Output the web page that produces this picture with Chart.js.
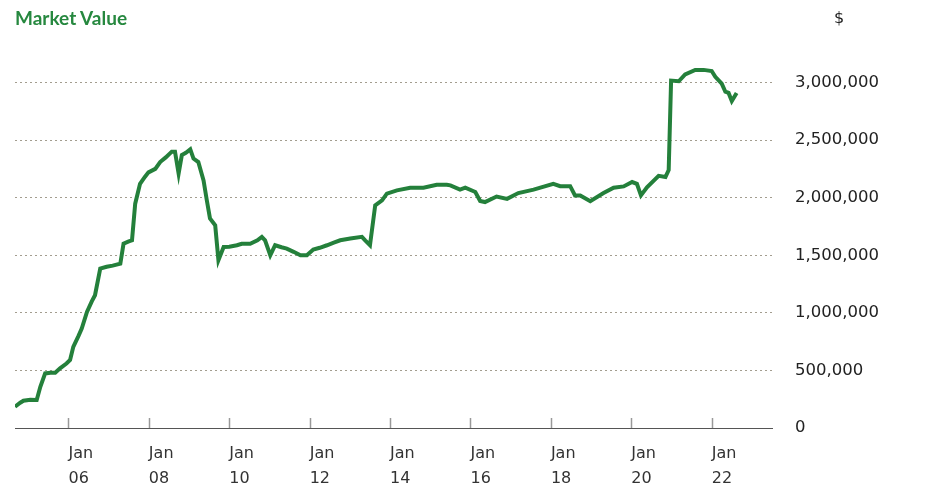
<!DOCTYPE html>
<html>
<head>
<meta charset="utf-8">
<script src="https://cdn.jsdelivr.net/npm/chart.js@4"></script>
<style>
  body { margin: 0; background: #fff; }
  #wrap { position: relative; width: 928px; height: 487px; }
  #title { position: absolute; left: 15px; top: 6px; font: bold 19px Lato, sans-serif; color: #26883f; }
  #unit { position: absolute; left: 834px; top: 8px; font: 16px "DejaVu Sans", sans-serif; color: #222; }
  canvas { position: absolute; left: 0; top: 0; }
</style>
</head>
<body>
<div id="wrap">
  <canvas id="chart" width="928" height="487"></canvas>
  <div id="title">Market Value</div>
  <div id="unit">$</div>
</div>
<script>
// decimal years and market value in $
const dates = [
  2004.67, 2004.80, 2004.88, 2005.05, 2005.21, 2005.30, 2005.42, 2005.55, 2005.67, 2005.79,
  2005.95, 2006.04, 2006.12, 2006.25, 2006.33, 2006.46, 2006.58, 2006.66, 2006.79, 2006.95,
  2007.10, 2007.29, 2007.37, 2007.50, 2007.58, 2007.66, 2007.78, 2007.90, 2007.99, 2008.16,
  2008.28, 2008.42, 2008.57, 2008.65, 2008.74, 2008.82, 2008.92, 2009.03, 2009.11, 2009.23,
  2009.36, 2009.44, 2009.52, 2009.65, 2009.73, 2009.86, 2010.00, 2010.19, 2010.31, 2010.52,
  2010.70, 2010.81, 2010.89, 2011.02, 2011.14, 2011.30, 2011.43, 2011.60, 2011.77, 2011.93,
  2012.09, 2012.25, 2012.43, 2012.60, 2012.76, 2013.01, 2013.30, 2013.38, 2013.50, 2013.63,
  2013.80, 2013.92, 2014.17, 2014.50, 2014.83, 2015.16, 2015.41, 2015.50, 2015.74, 2015.87,
  2016.12, 2016.24, 2016.36, 2016.65, 2016.91, 2017.19, 2017.57, 2018.06, 2018.23, 2018.48,
  2018.60, 2018.73, 2018.98, 2019.31, 2019.56, 2019.81, 2020.02, 2020.14, 2020.24, 2020.39,
  2020.68, 2020.85, 2020.93, 2020.99, 2021.18, 2021.34, 2021.59, 2021.80, 2022.00, 2022.09,
  2022.25, 2022.34, 2022.42, 2022.50, 2022.62
];
const values = [
  185000, 220000, 237000, 245000, 243000, 358000, 474000, 480000, 480000, 518000,
  560000, 590000, 705000, 800000, 864000, 1008000, 1100000, 1153000, 1385000, 1400000,
  1410000, 1428000, 1600000, 1620000, 1630000, 1948000, 2120000, 2180000, 2220000, 2250000,
  2310000, 2350000, 2400000, 2400000, 2210000, 2370000, 2390000, 2420000, 2340000, 2310000,
  2150000, 1980000, 1820000, 1760000, 1457000, 1572000, 1575000, 1587000, 1600000, 1600000,
  1630000, 1660000, 1630000, 1500000, 1587000, 1570000, 1558000, 1530000, 1500000, 1500000,
  1550000, 1565000, 1587000, 1610000, 1630000, 1645000, 1660000, 1630000, 1587000, 1934000,
  1977000, 2035000, 2064000, 2087000, 2087000, 2113000, 2113000, 2107000, 2070000, 2087000,
  2050000, 1971000, 1962000, 2010000, 1990000, 2040000, 2070000, 2120000, 2100000, 2100000,
  2020000, 2020000, 1970000, 2040000, 2087000, 2098000, 2136000, 2120000, 2020000, 2090000,
  2190000, 2180000, 2240000, 3017000, 3011000, 3070000, 3110000, 3110000, 3100000, 3050000,
  2990000, 2920000, 2910000, 2840000, 2910000
];
const tickYears = [2006, 2008, 2010, 2012, 2014, 2016, 2018, 2020, 2022];
const yTicks = [0, 500000, 1000000, 1500000, 2000000, 2500000, 3000000];

const green = "#24803b";
const xFont = { family: "'DejaVu Sans', sans-serif", size: 16, lineHeight: 1.56 };
const yFont = { family: "'DejaVu Sans', sans-serif", size: 16.5 };

// short tick marks standing up from the x axis
const upTicks = {
  id: "upTicks",
  afterDraw(chart) {
    const { ctx, scales: { x }, chartArea } = chart;
    ctx.save();
    ctx.strokeStyle = "#999";
    ctx.lineWidth = 1.5;
    tickYears.forEach(yr => {
      const px = Math.round(x.getPixelForValue(yr)) + 0.5;
      ctx.beginPath();
      ctx.moveTo(px, chartArea.bottom - 10);
      ctx.lineTo(px, chartArea.bottom);
      ctx.stroke();
    });
    ctx.restore();
  }
};

new Chart(document.getElementById("chart"), {
  type: "line",
  data: {
    datasets: [{
      label: "Market Value",
      data: dates.map((d, i) => ({ x: d, y: values[i] })),
      borderColor: green,
      borderWidth: 4,
      pointRadius: 0,
      tension: 0,
      fill: false
    }]
  },
  options: {
    responsive: false,
    animation: false,
    layout: { padding: { left: 15, right: 0, top: 48, bottom: 0 } },
    plugins: { legend: { display: false }, tooltip: { enabled: false } },
    scales: {
      x: {
        type: "linear",
        min: 2004.67,
        max: 2023.5,
        afterBuildTicks: s => { s.ticks = tickYears.map(v => ({ value: v })); },
        afterFit: s => { s.height = 59; },
        grid: { display: false, drawTicks: false },
        border: { display: true, color: "#555", width: 1 },
        ticks: {
          align: "start",
          maxRotation: 0,
          autoSkip: false,
          padding: 13,
          color: "#333",
          font: xFont,
          callback: v => ["Jan", String(v % 100).padStart(2, "0")]
        }
      },
      y: {
        position: "right",
        min: 0,
        max: 3300000,
        afterBuildTicks: s => { s.ticks = yTicks.map(v => ({ value: v })); },
        afterFit: s => { s.width = 156; },
        grid: {
          drawTicks: false,
          lineWidth: 1,
          color: c => (c.tick && c.tick.value === 0 ? "rgba(0,0,0,0)" : "#a39d8f")
        },
        border: { display: false, dash: [2, 3] },
        ticks: {
          padding: 23,
          color: "#222",
          font: yFont,
          callback: v => v.toLocaleString("en-US")
        }
      }
    }
  },
  plugins: [upTicks]
});
</script>
</body>
</html>
